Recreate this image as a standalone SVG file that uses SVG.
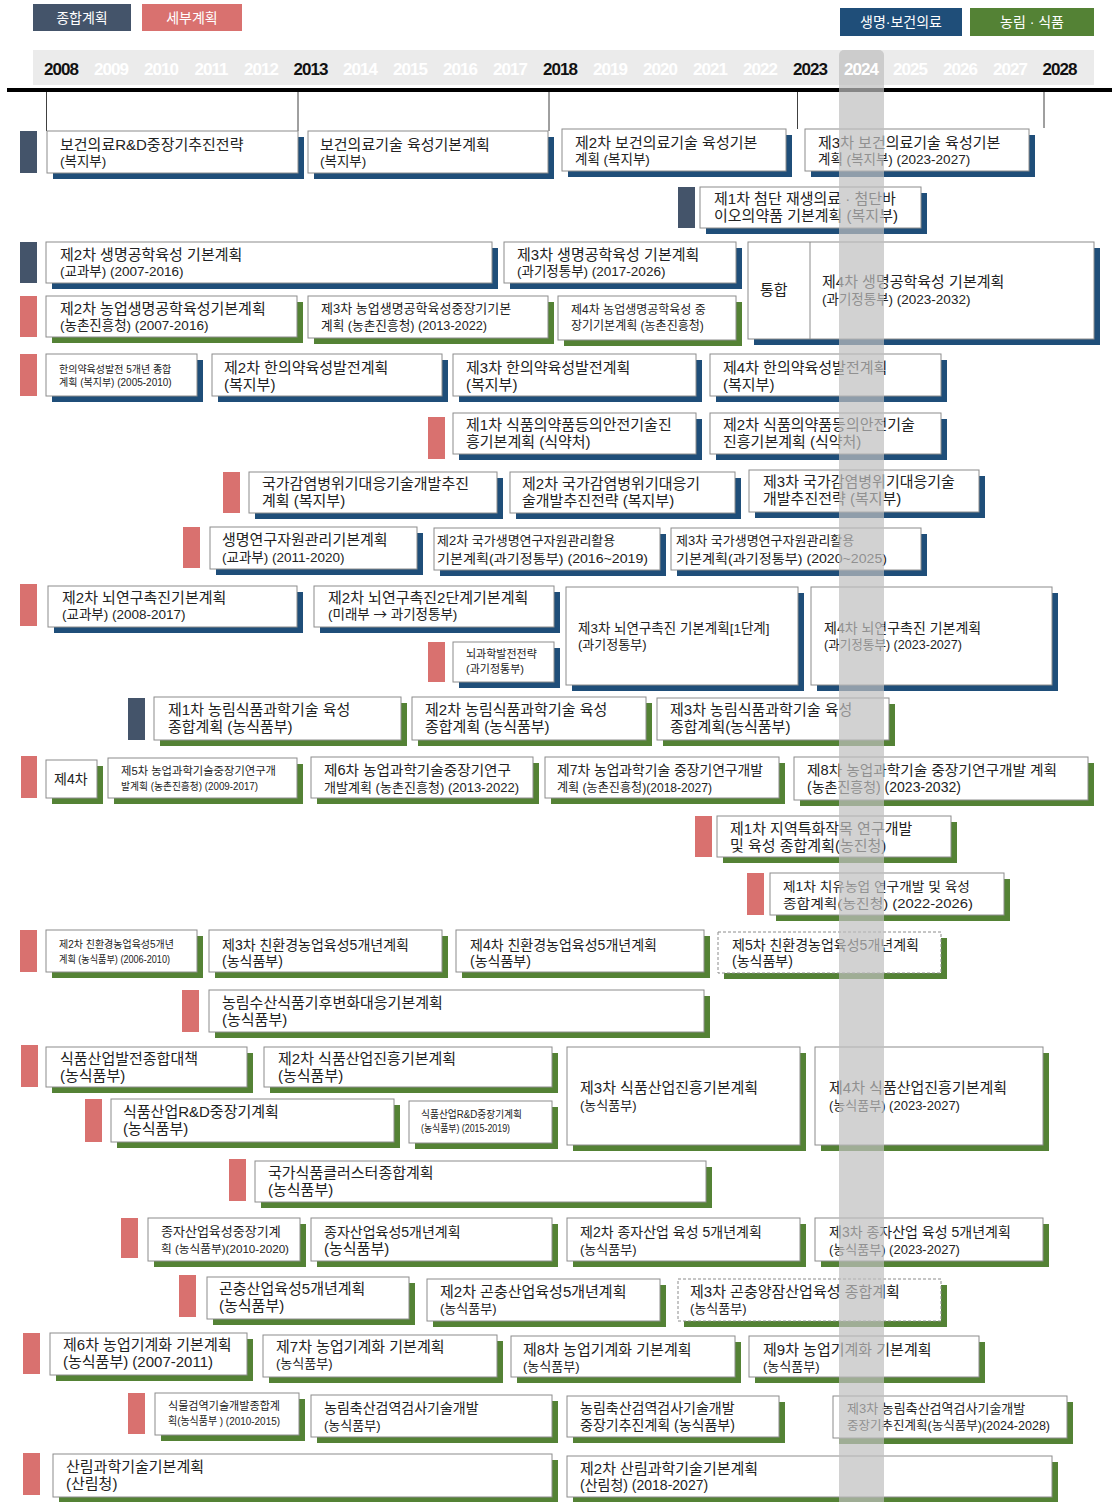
<svg xmlns="http://www.w3.org/2000/svg" width="1112" height="1502" viewBox="0 0 1112 1502">
<style>
text{font-family:"Liberation Sans","Noto Sans CJK KR",sans-serif;fill:#222}
.box{fill:#fff;stroke:#8c8c8c;stroke-width:1}
.dash{stroke-dasharray:3 2}
.sb{fill:#1f4e79}
.sg{fill:#548235}
.id{fill:#44546a}
.ip{fill:#d9716f}
.t1{font-size:15px}
.t2{font-size:13.5px}
.s14{font-size:14px}
.s13{font-size:13px}
.s12{font-size:12px}
.s11{font-size:11px}
.s10{font-size:10px}
.ar{font-family:"Noto Sans CJK KR","DejaVu Sans",sans-serif}
.lg{font-size:14px;fill:#fff}
.yr{font-family:"Liberation Sans",Arial,sans-serif;font-weight:bold;font-size:17px;letter-spacing:-1px;text-anchor:middle}
.yb{fill:#111}
.yw{fill:#fff}
.tick{stroke:#404040;stroke-width:1}
</style>

<g id="legend">
<rect x="33" y="4" width="98" height="27" fill="#44546a"/>
<text class="lg" x="82" y="23" text-anchor="middle">종합계획</text>
<rect x="142" y="4" width="100" height="27" fill="#d9716f"/>
<text class="lg" x="192" y="23" text-anchor="middle">세부계획</text>
<rect x="840" y="8" width="122" height="28" fill="#1f4e79"/>
<text class="lg" x="901" y="27" text-anchor="middle">생명·보건의료</text>
<rect x="970" y="8" width="124" height="28" fill="#548235"/>
<text class="lg" x="1032" y="27" text-anchor="middle">농림 · 식품</text>
</g>

<g id="timeline">
<rect x="33" y="50" width="1061" height="35" fill="#ebebeb"/>
<rect x="7" y="88" width="1105" height="4" fill="#000"/>
<line class="tick" x1="46.5" y1="92" x2="46.5" y2="131"/>
<line class="tick" x1="298" y1="92" x2="298" y2="131"/>
<line class="tick" x1="549" y1="92" x2="549" y2="131"/>
<line class="tick" x1="797.5" y1="92" x2="797.5" y2="129"/>
<line class="tick" x1="1044" y1="92" x2="1044" y2="128"/>
</g>

<g id="n01"><rect class="id" x="20" y="131" width="17" height="42"/><rect class="sb" x="53" y="137" width="251" height="42"/><rect class="box" x="47" y="131" width="251" height="42"/><text x="60" y="150"><tspan class="t1">보건의료R&amp;D중장기추진전략</tspan><tspan class="t2" x="60" dy="16">(복지부)</tspan></text></g>
<g id="n02"><rect class="sb" x="314" y="137" width="240" height="42"/><rect class="box" x="308" y="131" width="240" height="42"/><text x="320" y="150"><tspan class="t1">보건의료기술 육성기본계획</tspan><tspan class="t2" x="320" dy="16">(복지부)</tspan></text></g>
<g id="n03"><rect class="sb" x="568" y="135" width="224" height="42"/><rect class="box" x="562" y="129" width="224" height="42"/><text x="575" y="148"><tspan class="t1">제2차 보건의료기술 육성기본</tspan><tspan class="t2" x="575" dy="16">계획 (복지부)</tspan></text></g>
<g id="n04"><rect class="sb" x="811" y="135" width="224" height="42"/><rect class="box" x="805" y="129" width="224" height="42"/><text x="818" y="148"><tspan class="t1">제3차 보건의료기술 육성기본</tspan><tspan class="t2" x="818" dy="16">계획 (복지부) (2023-2027)</tspan></text></g>
<g id="n05"><rect class="id" x="678" y="187" width="17" height="41"/><rect class="sb" x="706" y="193" width="221" height="41"/><rect class="box" x="700" y="187" width="221" height="41"/><text x="714" y="204"><tspan class="t1">제1차 첨단 재생의료 · 첨단바</tspan><tspan class="t1" x="714" dy="17">이오의약품 기본계획 (복지부)</tspan></text></g>

<g id="n06"><rect class="id" x="20" y="242" width="17" height="41"/><rect class="sb" x="52" y="248" width="446" height="41"/><rect class="box" x="46" y="242" width="446" height="41"/><text x="60" y="260"><tspan class="t1">제2차 생명공학육성 기본계획</tspan><tspan class="t2" x="60" dy="16">(교과부) (2007-2016)</tspan></text></g>
<g id="n07"><rect class="sb" x="510" y="248" width="232" height="41"/><rect class="box" x="504" y="242" width="232" height="41"/><text x="517" y="260"><tspan class="t1">제3차 생명공학육성 기본계획</tspan><tspan class="t2" x="517" dy="16">(과기정통부) (2017-2026)</tspan></text></g>
<g id="n08"><rect class="sb" x="754" y="248" width="346" height="97"/><rect class="box" x="748" y="242" width="346" height="97"/><line x1="810" y1="242" x2="810" y2="339" stroke="#8c8c8c"/><text class="t1" x="760" y="295">통합</text><text x="822" y="287"><tspan class="t1">제4차 생명공학육성 기본계획</tspan><tspan class="t2" x="822" dy="17">(과기정통부) (2023-2032)</tspan></text></g>

<g id="n09"><rect class="ip" x="20" y="296" width="17" height="41"/><rect class="sg" x="52" y="302" width="251" height="41"/><rect class="box" x="46" y="296" width="251" height="41"/><text x="60" y="314"><tspan class="t1">제2차 농업생명공학육성기본계획</tspan><tspan class="t2" x="60" dy="16">(농촌진흥청) (2007-2016)</tspan></text></g>
<g id="n10"><rect class="sg" x="314" y="302" width="240" height="42"/><rect class="box" x="308" y="296" width="240" height="42"/><text x="321" y="313"><tspan class="s13">제3차 농업생명공학육성중장기기본</tspan><tspan class="s13" x="321" dy="17" textLength="166" lengthAdjust="spacingAndGlyphs">계획 (농촌진흥청) (2013-2022)</tspan></text></g>
<g id="n11"><rect class="sg" x="564" y="302" width="178" height="44"/><rect class="box" x="558" y="296" width="178" height="44"/><text x="571" y="314"><tspan class="s12">제4차 농업생명공학육성 중</tspan><tspan class="s12" x="571" dy="16">장기기본계획 (농촌진흥청)</tspan></text></g>

<g id="n12"><rect class="ip" x="20" y="354" width="17" height="42"/><rect class="sb" x="52" y="360" width="151" height="42"/><rect class="box" x="46" y="354" width="151" height="42"/><text x="59" y="373"><tspan class="s10">한의약육성발전 5개년 종합</tspan><tspan class="s10" x="59" dy="13">계획 (복지부) (2005-2010)</tspan></text></g>
<g id="n13"><rect class="sb" x="218" y="360" width="230" height="42"/><rect class="box" x="212" y="354" width="230" height="42"/><text x="224" y="373"><tspan class="t1">제2차 한의약육성발전계획</tspan><tspan class="t1" x="224" dy="17">(복지부)</tspan></text></g>
<g id="n14"><rect class="sb" x="459" y="360" width="243" height="42"/><rect class="box" x="453" y="354" width="243" height="42"/><text x="466" y="373"><tspan class="t1">제3차 한의약육성발전계획</tspan><tspan class="t1" x="466" dy="17">(복지부)</tspan></text></g>
<g id="n15"><rect class="sb" x="716" y="360" width="231" height="42"/><rect class="box" x="710" y="354" width="231" height="42"/><text x="723" y="373"><tspan class="t1">제4차 한의약육성발전계획</tspan><tspan class="t1" x="723" dy="17">(복지부)</tspan></text></g>

<g id="n16"><rect class="ip" x="428" y="417" width="17" height="42"/><rect class="sb" x="459" y="419" width="243" height="41"/><rect class="box" x="453" y="413" width="243" height="41"/><text x="466" y="430"><tspan class="t1">제1차 식품의약품등의안전기술진</tspan><tspan class="t1" x="466" dy="17">흥기본계획 (식약처)</tspan></text></g>
<g id="n17"><rect class="sb" x="716" y="419" width="231" height="41"/><rect class="box" x="710" y="413" width="231" height="41"/><text x="723" y="430"><tspan class="t1">제2차 식품의약품등의안전기술</tspan><tspan class="t1" x="723" dy="17">진흥기본계획 (식약처)</tspan></text></g>

<g id="n18"><rect class="ip" x="223" y="472" width="17" height="41"/><rect class="sb" x="255" y="478" width="248" height="41"/><rect class="box" x="249" y="472" width="248" height="41"/><text x="262" y="489"><tspan class="t1">국가감염병위기대응기술개발추진</tspan><tspan class="t1" x="262" dy="17">계획 (복지부)</tspan></text></g>
<g id="n19"><rect class="sb" x="516" y="478" width="225" height="41"/><rect class="box" x="510" y="472" width="225" height="41"/><text x="522" y="489"><tspan class="t1">제2차 국가감염병위기대응기</tspan><tspan class="t1" x="522" dy="17">술개발추진전략 (복지부)</tspan></text></g>
<g id="n20"><rect class="sb" x="755" y="476" width="230" height="42"/><rect class="box" x="749" y="470" width="230" height="42"/><text x="763" y="487"><tspan class="t1">제3차 국가감염병위기대응기술</tspan><tspan class="t1" x="763" dy="17">개발추진전략 (복지부)</tspan></text></g>

<g id="n21"><rect class="ip" x="183" y="527" width="17" height="41"/><rect class="sb" x="216" y="533" width="207" height="42"/><rect class="box" x="210" y="527" width="207" height="42"/><text x="222" y="545"><tspan class="t1">생명연구자원관리기본계획</tspan><tspan class="t2" x="222" dy="17">(교과부) (2011-2020)</tspan></text></g>
<g id="n22"><rect class="sb" x="440" y="534" width="226" height="42"/><rect class="box" x="434" y="528" width="226" height="42"/><text x="437" y="545"><tspan class="s13">제2차 국가생명연구자원관리활용</tspan><tspan class="s13" x="437" dy="18" textLength="211" lengthAdjust="spacingAndGlyphs">기본계획(과기정통부) (2016~2019)</tspan></text></g>
<g id="n23"><rect class="sb" x="677" y="534" width="250" height="42"/><rect class="box" x="671" y="528" width="250" height="42"/><text x="676" y="545"><tspan class="s13">제3차 국가생명연구자원관리활용</tspan><tspan class="s13" x="676" dy="18" textLength="211" lengthAdjust="spacingAndGlyphs">기본계획(과기정통부) (2020~2025)</tspan></text></g>

<g id="n24"><rect class="ip" x="20" y="584" width="17" height="42"/><rect class="sb" x="54" y="592" width="249" height="41"/><rect class="box" x="48" y="586" width="249" height="41"/><text x="62" y="603"><tspan class="t1">제2차 뇌연구촉진기본계획</tspan><tspan class="t2" x="62" dy="16">(교과부) (2008-2017)</tspan></text></g>
<g id="n25"><rect class="sb" x="320" y="592" width="240" height="41"/><rect class="box" x="314" y="586" width="240" height="41"/><text x="328" y="603"><tspan class="t1">제2차 뇌연구촉진2단계기본계획</tspan><tspan class="t2" x="328" dy="16">(미래부 </tspan><tspan class="t2 ar">→</tspan><tspan class="t2"> 과기정통부)</tspan></text></g>
<g id="n26"><rect class="ip" x="428" y="642" width="17" height="40"/><rect class="sb" x="459" y="648" width="101" height="40"/><rect class="box" x="453" y="642" width="101" height="40"/><text x="466" y="658"><tspan class="s11">뇌과학발전전략</tspan><tspan class="s11" x="466" dy="15">(과기정통부)</tspan></text></g>
<g id="n27"><rect class="sb" x="572" y="593" width="232" height="98"/><rect class="box" x="566" y="587" width="232" height="98"/><text x="578" y="633"><tspan class="t2">제3차 뇌연구촉진 기본계획[1단계]</tspan><tspan class="s13" x="578" dy="16">(과기정통부)</tspan></text></g>
<g id="n28"><rect class="sb" x="817" y="593" width="241" height="98"/><rect class="box" x="811" y="587" width="241" height="98"/><text x="824" y="633"><tspan class="s14">제4차 뇌연구촉진 기본계획</tspan><tspan class="s13" x="824" dy="16" textLength="138" lengthAdjust="spacingAndGlyphs">(과기정통부) (2023-2027)</tspan></text></g>

<g id="n29"><rect class="id" x="128" y="698" width="17" height="42"/><rect class="sg" x="160" y="703" width="247" height="43"/><rect class="box" x="154" y="697" width="247" height="43"/><text x="168" y="715"><tspan class="t1">제1차 농림식품과학기술 육성</tspan><tspan class="t1" x="168" dy="17">종합계획 (농식품부)</tspan></text></g>
<g id="n30"><rect class="sg" x="418" y="703" width="234" height="43"/><rect class="box" x="412" y="697" width="234" height="43"/><text x="425" y="715"><tspan class="t1">제2차 농림식품과학기술 육성</tspan><tspan class="t1" x="425" dy="17">종합계획 (농식품부)</tspan></text></g>
<g id="n31"><rect class="sg" x="663" y="704" width="232" height="42"/><rect class="box" x="657" y="698" width="232" height="42"/><text x="670" y="715"><tspan class="t1">제3차 농림식품과학기술 육성</tspan><tspan class="t1" x="670" dy="17">종합계획(농식품부)</tspan></text></g>

<g id="n32"><rect class="ip" x="21" y="756" width="16" height="42"/><rect class="sg" x="52" y="766" width="51" height="38"/><rect class="box" x="46" y="760" width="51" height="38"/><text class="s14" x="54" y="784">제4차</text></g>
<g id="n33"><rect class="sg" x="114" y="764" width="189" height="40"/><rect class="box" x="108" y="758" width="189" height="40"/><text x="121" y="775"><tspan class="s11" textLength="155" lengthAdjust="spacingAndGlyphs">제5차 농업과학기술중장기연구개</tspan><tspan class="s10" x="121" dy="15" textLength="137" lengthAdjust="spacingAndGlyphs">발계획  (농촌진흥청)  (2009-2017)</tspan></text></g>
<g id="n34"><rect class="sg" x="317" y="763" width="222" height="41"/><rect class="box" x="311" y="757" width="222" height="41"/><text x="324" y="775"><tspan class="s14" textLength="187" lengthAdjust="spacingAndGlyphs">제6차 농업과학기술중장기연구</tspan><tspan class="s13" x="324" dy="17" textLength="195" lengthAdjust="spacingAndGlyphs">개발계획 (농촌진흥청) (2013-2022)</tspan></text></g>
<g id="n35"><rect class="sg" x="551" y="763" width="234" height="41"/><rect class="box" x="545" y="757" width="234" height="41"/><text x="557" y="775"><tspan class="s14" textLength="206" lengthAdjust="spacingAndGlyphs">제7차 농업과학기술 중장기연구개발</tspan><tspan class="s12" x="557" dy="17" textLength="155" lengthAdjust="spacingAndGlyphs">계획 (농촌진흥청)(2018-2027)</tspan></text></g>
<g id="n36"><rect class="sg" x="800" y="763" width="294" height="43"/><rect class="box" x="794" y="757" width="294" height="43"/><text x="807" y="775"><tspan class="s14" textLength="250" lengthAdjust="spacingAndGlyphs">제8차 농업과학기술 중장기연구개발 계획</tspan><tspan class="s14" x="807" dy="17">(농촌진흥청) (2023-2032)</tspan></text></g>

<g id="n37"><rect class="ip" x="695" y="816" width="17" height="41"/><rect class="sg" x="723" y="822" width="234" height="41"/><rect class="box" x="717" y="816" width="234" height="41"/><text x="730" y="834"><tspan class="t1">제1차 지역특화작목 연구개발</tspan><tspan class="t1" x="730" dy="17">및 육성 종합계획(농진청)</tspan></text></g>
<g id="n38"><rect class="ip" x="747" y="873" width="17" height="42"/><rect class="sg" x="776" y="879" width="234" height="42"/><rect class="box" x="770" y="873" width="234" height="42"/><text x="783" y="891"><tspan class="s13" textLength="187" lengthAdjust="spacingAndGlyphs">제1차 치유농업 연구개발 및 육성</tspan><tspan class="s13" x="783" dy="17" textLength="190" lengthAdjust="spacingAndGlyphs">종합계획(농진청) (2022-2026)</tspan></text></g>

<g id="n39"><rect class="ip" x="20" y="930" width="17" height="42"/><rect class="sg" x="52" y="936" width="151" height="42"/><rect class="box" x="46" y="930" width="151" height="42"/><text x="59" y="948"><tspan class="s10" textLength="115" lengthAdjust="spacingAndGlyphs">제2차 친환경농업육성5개년</tspan><tspan class="s10" x="59" dy="15" textLength="111" lengthAdjust="spacingAndGlyphs">계획 (농식품부) (2006-2010)</tspan></text></g>
<g id="n40"><rect class="sg" x="215" y="936" width="233" height="42"/><rect class="box" x="209" y="930" width="233" height="42"/><text x="222" y="950"><tspan class="s14">제3차 친환경농업육성5개년계획</tspan><tspan class="s14" x="222" dy="16">(농식품부)</tspan></text></g>
<g id="n41"><rect class="sg" x="462" y="936" width="248" height="42"/><rect class="box" x="456" y="930" width="248" height="42"/><text x="470" y="950"><tspan class="s14">제4차 친환경농업육성5개년계획</tspan><tspan class="s14" x="470" dy="16">(농식품부)</tspan></text></g>
<g id="n42"><rect class="sg" x="724" y="938" width="223" height="41"/><rect class="box dash" x="718" y="932" width="223" height="41"/><text x="732" y="950"><tspan class="s14">제5차 친환경농업육성5개년계획</tspan><tspan class="s14" x="732" dy="16">(농식품부)</tspan></text></g>

<g id="n43"><rect class="ip" x="182" y="990" width="17" height="42"/><rect class="sg" x="215" y="996" width="495" height="42"/><rect class="box" x="209" y="990" width="495" height="42"/><text x="222" y="1008"><tspan class="t1">농림수산식품기후변화대응기본계획</tspan><tspan class="t1" x="222" dy="17">(농식품부)</tspan></text></g>

<g id="n44"><rect class="ip" x="21" y="1045" width="17" height="42"/><rect class="sg" x="52" y="1053" width="201" height="40"/><rect class="box" x="46" y="1047" width="201" height="40"/><text x="60" y="1064"><tspan class="t1">식품산업발전종합대책</tspan><tspan class="t1" x="60" dy="17">(농식품부)</tspan></text></g>
<g id="n45"><rect class="sg" x="270" y="1053" width="288" height="40"/><rect class="box" x="264" y="1047" width="288" height="40"/><text x="278" y="1064"><tspan class="t1">제2차 식품산업진흥기본계획</tspan><tspan class="t1" x="278" dy="17">(농식품부)</tspan></text></g>
<g id="n46"><rect class="sg" x="573" y="1053" width="233" height="98"/><rect class="box" x="567" y="1047" width="233" height="98"/><text x="580" y="1093"><tspan class="t1">제3차 식품산업진흥기본계획</tspan><tspan class="s13" x="580" dy="17">(농식품부)</tspan></text></g>
<g id="n47"><rect class="sg" x="821" y="1053" width="228" height="98"/><rect class="box" x="815" y="1047" width="228" height="98"/><text x="829" y="1093"><tspan class="t1">제4차 식품산업진흥기본계획</tspan><tspan class="s13" x="829" dy="17">(농식품부) (2023-2027)</tspan></text></g>

<g id="n48"><rect class="ip" x="85" y="1099" width="17" height="43"/><rect class="sg" x="117" y="1105" width="283" height="43"/><rect class="box" x="111" y="1099" width="283" height="43"/><text x="123" y="1117"><tspan class="t1">식품산업R&amp;D중장기계획</tspan><tspan class="t1" x="123" dy="17">(농식품부)</tspan></text></g>
<g id="n49"><rect class="sg" x="415" y="1107" width="143" height="42"/><rect class="box" x="409" y="1101" width="143" height="42"/><text x="421" y="1118"><tspan class="s10" textLength="101" lengthAdjust="spacingAndGlyphs">식품산업R&amp;D중장기계획</tspan><tspan class="s10" x="421" dy="14" textLength="89" lengthAdjust="spacingAndGlyphs">(농식품부) (2015-2019)</tspan></text></g>

<g id="n50"><rect class="ip" x="229" y="1159" width="17" height="42"/><rect class="sg" x="261" y="1167" width="451" height="41"/><rect class="box" x="255" y="1161" width="451" height="41"/><text x="268" y="1178"><tspan class="t1">국가식품클러스터종합계획</tspan><tspan class="t1" x="268" dy="17">(농식품부)</tspan></text></g>

<g id="n51"><rect class="ip" x="121" y="1218" width="17" height="40"/><rect class="sg" x="154" y="1224" width="152" height="43"/><rect class="box" x="148" y="1218" width="152" height="43"/><text x="161" y="1236"><tspan class="s13">종자산업육성중장기계</tspan><tspan class="s11" x="161" dy="17" textLength="128" lengthAdjust="spacingAndGlyphs">획 (농식품부)(2010-2020)</tspan></text></g>
<g id="n52"><rect class="sg" x="317" y="1224" width="241" height="43"/><rect class="box" x="311" y="1218" width="241" height="43"/><text x="324" y="1237"><tspan class="s14">종자산업육성5개년계획</tspan><tspan class="t1" x="324" dy="17">(농식품부)</tspan></text></g>
<g id="n53"><rect class="sg" x="573" y="1224" width="233" height="43"/><rect class="box" x="567" y="1218" width="233" height="43"/><text x="580" y="1237"><tspan class="s14">제2차 종자산업 육성 5개년계획</tspan><tspan class="s13" x="580" dy="17">(농식품부)</tspan></text></g>
<g id="n54"><rect class="sg" x="821" y="1224" width="228" height="43"/><rect class="box" x="815" y="1218" width="228" height="43"/><text x="829" y="1237"><tspan class="s14">제3차 종자산업 육성 5개년계획</tspan><tspan class="s13" x="829" dy="17">(농식품부) (2023-2027)</tspan></text></g>

<g id="n55"><rect class="ip" x="179" y="1275" width="17" height="42"/><rect class="sg" x="213" y="1283" width="202" height="42"/><rect class="box" x="207" y="1277" width="202" height="42"/><text x="219" y="1294"><tspan class="t1">곤충산업육성5개년계획</tspan><tspan class="t1" x="219" dy="17">(농식품부)</tspan></text></g>
<g id="n56"><rect class="sg" x="433" y="1285" width="233" height="42"/><rect class="box" x="427" y="1279" width="233" height="42"/><text x="440" y="1297"><tspan class="t1">제2차 곤충산업육성5개년계획</tspan><tspan class="s13" x="440" dy="16">(농식품부)</tspan></text></g>
<g id="n57"><rect class="sg" x="684" y="1285" width="263" height="42"/><rect class="box dash" x="678" y="1279" width="263" height="42"/><text x="690" y="1297"><tspan class="t1">제3차 곤충양잠산업육성 종합계획</tspan><tspan class="s13" x="690" dy="16">(농식품부)</tspan></text></g>

<g id="n58"><rect class="ip" x="23" y="1333" width="17" height="41"/><rect class="sg" x="56" y="1339" width="197" height="42"/><rect class="box" x="50" y="1333" width="197" height="42"/><text x="63" y="1350"><tspan class="t1">제6차 농업기계화 기본계획</tspan><tspan class="t1" x="63" dy="17">(농식품부) (2007-2011)</tspan></text></g>
<g id="n59"><rect class="sg" x="269" y="1341" width="234" height="42"/><rect class="box" x="263" y="1335" width="234" height="42"/><text x="276" y="1352"><tspan class="t1">제7차 농업기계화 기본계획</tspan><tspan class="s13" x="276" dy="16">(농식품부)</tspan></text></g>
<g id="n60"><rect class="sg" x="517" y="1342" width="224" height="41"/><rect class="box" x="511" y="1336" width="224" height="41"/><text x="523" y="1355"><tspan class="t1">제8차 농업기계화 기본계획</tspan><tspan class="s13" x="523" dy="16">(농식품부)</tspan></text></g>
<g id="n61"><rect class="sg" x="755" y="1342" width="230" height="41"/><rect class="box" x="749" y="1336" width="230" height="41"/><text x="763" y="1355"><tspan class="t1">제9차 농업기계화 기본계획</tspan><tspan class="s13" x="763" dy="16">(농식품부)</tspan></text></g>

<g id="n62"><rect class="ip" x="128" y="1393" width="17" height="41"/><rect class="sg" x="161" y="1399" width="144" height="42"/><rect class="box" x="155" y="1393" width="144" height="42"/><text x="168" y="1410"><tspan class="s11" textLength="112" lengthAdjust="spacingAndGlyphs">식물검역기술개발종합계</tspan><tspan class="s11" x="168" dy="15" textLength="112" lengthAdjust="spacingAndGlyphs">획(농식품부 ) (2010-2015)</tspan></text></g>
<g id="n63"><rect class="sg" x="317" y="1401" width="241" height="42"/><rect class="box" x="311" y="1395" width="241" height="42"/><text x="324" y="1413"><tspan class="s14">농림축산검역검사기술개발</tspan><tspan class="s13" x="324" dy="17">(농식품부)</tspan></text></g>
<g id="n64"><rect class="sg" x="573" y="1402" width="212" height="41"/><rect class="box" x="567" y="1396" width="212" height="41"/><text x="580" y="1413"><tspan class="s14">농림축산검역검사기술개발</tspan><tspan class="s14" x="580" dy="17">중장기추진계획 (농식품부)</tspan></text></g>
<g id="n65"><rect class="sg" x="839" y="1402" width="234" height="42"/><rect class="box" x="833" y="1396" width="234" height="42"/><text x="847" y="1413"><tspan class="s13">제3차 농림축산검역검사기술개발</tspan><tspan class="s12" x="847" dy="17" textLength="203" lengthAdjust="spacingAndGlyphs">중장기추진계획(농식품부)(2024-2028)</tspan></text></g>

<g id="n66"><rect class="ip" x="23" y="1453" width="17" height="42"/><rect class="sg" x="59" y="1460" width="499" height="43"/><rect class="box" x="53" y="1454" width="499" height="43"/><text x="66" y="1472"><tspan class="t1">산림과학기술기본계획</tspan><tspan class="t1" x="66" dy="17">(산림청)</tspan></text></g>
<g id="n67"><rect class="sg" x="573" y="1462" width="485" height="41"/><rect class="box" x="567" y="1456" width="485" height="41"/><text x="580" y="1474"><tspan class="t1">제2차 산림과학기술기본계획</tspan><tspan class="s14" x="580" dy="16">(산림청) (2018-2027)</tspan></text></g>

<g id="connectors"></g>

<g id="highlight2024">
<rect x="839" y="50" width="45" height="1470" rx="5" fill="#bfbfbf" opacity="0.7"/>
</g>

<g id="years">
<text class="yr yb" x="61" y="75">2008</text>
<text class="yr yw" x="111" y="75">2009</text>
<text class="yr yw" x="161" y="75">2010</text>
<text class="yr yw" x="211" y="75">2011</text>
<text class="yr yw" x="261" y="75">2012</text>
<text class="yr yb" x="310.5" y="75">2013</text>
<text class="yr yw" x="360" y="75">2014</text>
<text class="yr yw" x="410" y="75">2015</text>
<text class="yr yw" x="460" y="75">2016</text>
<text class="yr yw" x="510" y="75">2017</text>
<text class="yr yb" x="560" y="75">2018</text>
<text class="yr yw" x="610" y="75">2019</text>
<text class="yr yw" x="660" y="75">2020</text>
<text class="yr yw" x="710" y="75">2021</text>
<text class="yr yw" x="760" y="75">2022</text>
<text class="yr yb" x="810" y="75">2023</text>
<text class="yr yw" x="861" y="75">2024</text>
<text class="yr yw" x="910" y="75">2025</text>
<text class="yr yw" x="960" y="75">2026</text>
<text class="yr yw" x="1010" y="75">2027</text>
<text class="yr yb" x="1059.5" y="75">2028</text>
</g>
</svg>
